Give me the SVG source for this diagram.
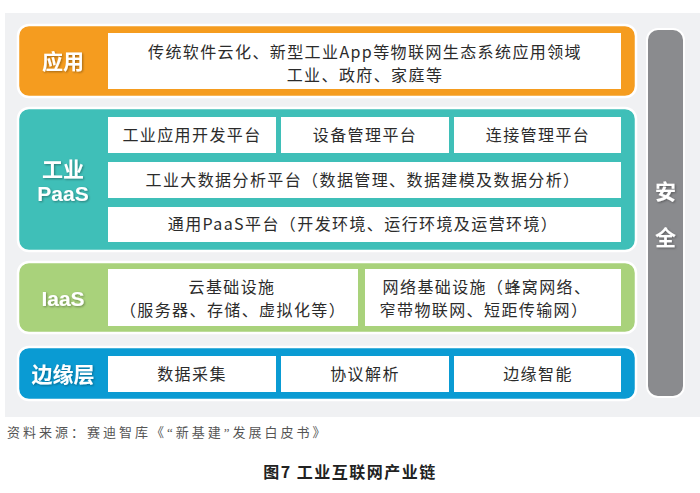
<svg xmlns="http://www.w3.org/2000/svg" width="700" height="493" viewBox="0 0 700 493">
<defs>
<filter id="sh" x="-20%" y="-20%" width="140%" height="140%">
<feDropShadow dx="1" dy="1" stdDeviation="1" flood-color="#000" flood-opacity="0.35"/>
</filter>
<style>
.band{stroke:#fff;stroke-width:2.5}
.box{fill:#fff}
.t{font-family:"Noto Sans CJK SC","Liberation Sans",sans-serif;font-size:16px;fill:#2b2b2b;text-anchor:middle;letter-spacing:1.4px}
.lb{font-family:"Liberation Sans","Noto Sans CJK SC",sans-serif;font-weight:bold;font-size:21px;fill:#fff;text-anchor:middle;filter:url(#sh)}
</style>
</defs>
<rect x="5" y="13" width="695" height="404" fill="#f0f1f3"/>
<g id="app">
<rect class="band" x="18" y="25" width="618" height="72" rx="11" fill="#f59c1f"/>
<rect class="box" x="108" y="33" width="513" height="56"/>
<text class="lb" x="63" y="69">应用</text>
<text class="t" x="365" y="58">传统软件云化、新型工业App等物联网生态系统应用领域</text>
<text class="t" x="365" y="81">工业、政府、家庭等</text>
</g>
<g id="paas">
<rect class="band" x="18" y="108" width="618" height="143" rx="11" fill="#3fbfb8"/>
<rect class="box" x="108" y="117" width="168" height="36"/>
<rect class="box" x="281" y="117" width="168" height="36"/>
<rect class="box" x="454" y="117" width="167" height="36"/>
<rect class="box" x="108" y="162" width="513" height="36"/>
<rect class="box" x="108" y="207" width="513" height="35"/>
<text class="lb" x="63" y="177">工业</text>
<text class="lb" x="63" y="201">PaaS</text>
<text class="t" x="192" y="141">工业应用开发平台</text>
<text class="t" x="365" y="141">设备管理平台</text>
<text class="t" x="538" y="141">连接管理平台</text>
<text class="t" x="363" y="186">工业大数据分析平台（数据管理、数据建模及数据分析）</text>
<text class="t" x="363" y="230">通用PaaS平台（开发环境、运行环境及运营环境）</text>
</g>
<g id="iaas">
<rect class="band" x="18" y="262" width="618" height="71" rx="11" fill="#a9d27b"/>
<rect class="box" x="108" y="269" width="250" height="57"/>
<rect class="box" x="365" y="269" width="256" height="57"/>
<text class="lb" x="63" y="306">IaaS</text>
<text class="t" x="232" y="293">云基础设施</text>
<text class="t" x="233" y="316">（服务器、存储、虚拟化等）</text>
<text class="t" x="487" y="293">网络基础设施（蜂窝网络、</text>
<text class="t" x="484" y="316">窄带物联网、短距传输网）</text>
</g>
<g id="edge">
<rect class="band" x="18" y="347" width="618" height="53" rx="11" fill="#0a9bd3"/>
<rect class="box" x="108" y="356" width="168" height="36"/>
<rect class="box" x="281" y="356" width="168" height="36"/>
<rect class="box" x="454" y="356" width="167" height="36"/>
<text class="lb" x="63" y="382">边缘层</text>
<text class="t" x="192" y="380">数据采集</text>
<text class="t" x="365" y="380">协议解析</text>
<text class="t" x="538" y="380">边缘智能</text>
</g>
<g id="security">
<rect x="647" y="29" width="37" height="368" rx="11" fill="#8a8b8e" stroke="#fff" stroke-width="2"/>
<text class="lb" x="665.5" y="199">安</text>
<text class="lb" x="665.5" y="245">全</text>
</g>
<g id="connectors"></g>
<text x="7" y="437" font-family="'Liberation Serif','Noto Sans CJK SC',serif" font-size="13" fill="#555" letter-spacing="3">资料来源：赛迪智库《“新基建”发展白皮书》</text>
<text x="350" y="478" font-family="'Noto Sans CJK SC','Liberation Sans',sans-serif" font-size="16" font-weight="bold" fill="#222" text-anchor="middle" letter-spacing="1.5">图7  工业互联网产业链</text>
</svg>
